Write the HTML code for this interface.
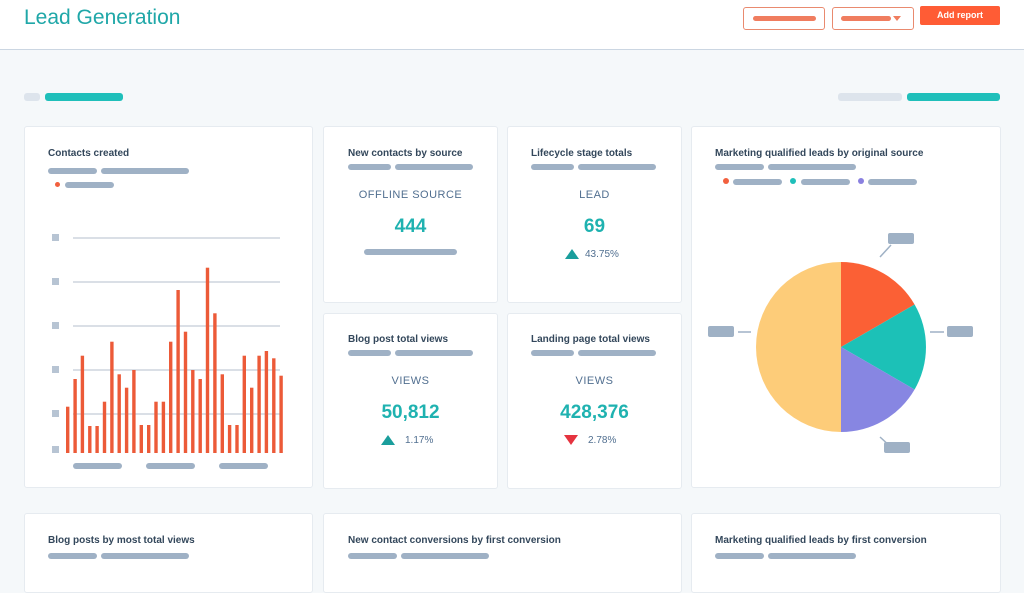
<!DOCTYPE html>
<html><head><style>
*{margin:0;padding:0;box-sizing:border-box}
body{width:1024px;height:576px;overflow:hidden;background:#f5f8fa;font-family:"Liberation Sans",sans-serif;position:relative}
.a{position:absolute}
.card{position:absolute;background:#fff;border:1px solid #e6ebf0;border-radius:3px}
.t{position:absolute;font-size:10px;font-weight:bold;color:#33475b;white-space:nowrap}
.p{position:absolute;height:6px;border-radius:3px;background:#9fb1c5}
.lbl{position:absolute;font-size:11px;color:#516f90;text-align:center;letter-spacing:.5px}
.num{position:absolute;font-size:19px;font-weight:bold;color:#1fb2b0;text-align:center}
.pct{position:absolute;font-size:10px;color:#516f90}
</style></head><body>
<div class="a" style="left:0;top:0;width:1024px;height:50px;background:#fff;border-bottom:1px solid #cbd6e2"></div>
<div class="a" style="left:24px;top:6px;font-size:21px;color:#1fa7a8">Lead Generation</div>
<div class="a" style="left:743px;top:7px;width:82px;height:23px;border:1.5px solid #e98a6f;border-radius:3px"></div>
<div class="a" style="left:753px;top:16px;width:63px;height:5px;border-radius:3px;background:#f07d5f"></div>
<div class="a" style="left:832px;top:7px;width:82px;height:23px;border:1.5px solid #e98a6f;border-radius:3px"></div>
<div class="a" style="left:841px;top:16px;width:50px;height:5px;border-radius:3px;background:#f07d5f"></div>
<div class="a" style="left:893px;top:16px;width:0;height:0;border-left:4px solid transparent;border-right:4px solid transparent;border-top:5px solid #f07d5f"></div>
<div class="a" style="left:920px;top:6px;width:80px;height:19px;background:#ff5c35;border-radius:2px;color:#fff;font-size:9px;font-weight:bold;text-align:center;line-height:19px">Add report</div>
<div class="a" style="left:24px;top:93px;width:16px;height:8px;background:#dde4ec;border-radius:3px"></div>
<div class="a" style="left:45px;top:93px;width:78px;height:8px;background:#1fbfba;border-radius:3px"></div>
<div class="a" style="left:838px;top:93px;width:64px;height:8px;background:#dde4ec;border-radius:3px"></div>
<div class="a" style="left:907px;top:93px;width:93px;height:8px;background:#1fbfba;border-radius:3px"></div>

<div class="card" style="left:24px;top:126px;width:289px;height:362px"></div>
<div class="t" style="left:48px;top:148px">Contacts created</div>
<div class="p" style="left:48px;top:168px;width:49px"></div><div class="p" style="left:101px;top:168px;width:88px"></div>
<div class="a" style="left:55px;top:182px;width:5px;height:5px;border-radius:50%;background:#f2603e"></div>
<div class="p" style="left:65px;top:182px;width:49px"></div>
<svg class="a" style="left:0;top:0" width="320" height="480">
<g fill="#b7c4d3"><rect x="52" y="234" width="7" height="7"/><rect x="52" y="278" width="7" height="7"/><rect x="52" y="322" width="7" height="7"/><rect x="52" y="366" width="7" height="7"/><rect x="52" y="410" width="7" height="7"/><rect x="52" y="446" width="7" height="7"/></g>
<g stroke="#c3ccd6" stroke-width="1.2"><line x1="73" y1="238" x2="280" y2="238"/><line x1="73" y1="282" x2="280" y2="282"/><line x1="73" y1="326" x2="280" y2="326"/><line x1="73" y1="370" x2="280" y2="370"/><line x1="73" y1="414" x2="280" y2="414"/></g>
<g fill="#ec5a38" id="bars"></g>
<g fill="#9fb1c5"><rect x="73" y="463" width="49" height="6" rx="3"/><rect x="146" y="463" width="49" height="6" rx="3"/><rect x="219" y="463" width="49" height="6" rx="3"/></g>
</svg>

<div class="card" style="left:323px;top:126px;width:175px;height:177px"></div>
<div class="t" style="left:348px;top:148px">New contacts by source</div>
<div class="p" style="left:348px;top:164px;width:43px"></div><div class="p" style="left:395px;top:164px;width:78px"></div>
<div class="lbl" style="left:323px;top:189px;width:175px">OFFLINE SOURCE</div>
<div class="num" style="left:323px;top:216px;width:175px">444</div>
<div class="p" style="left:364px;top:249px;width:93px"></div>

<div class="card" style="left:507px;top:126px;width:175px;height:177px"></div>
<div class="t" style="left:531px;top:148px">Lifecycle stage totals</div>
<div class="p" style="left:531px;top:164px;width:43px"></div><div class="p" style="left:578px;top:164px;width:78px"></div>
<div class="lbl" style="left:507px;top:189px;width:175px">LEAD</div>
<div class="num" style="left:507px;top:216px;width:175px">69</div>
<div class="a" style="left:565px;top:249px;width:0;height:0;border-left:7px solid transparent;border-right:7px solid transparent;border-bottom:10px solid #1a9e9c"></div>
<div class="pct" style="left:585px;top:249px">43.75%</div>

<div class="card" style="left:323px;top:313px;width:175px;height:176px"></div>
<div class="t" style="left:348px;top:334px">Blog post total views</div>
<div class="p" style="left:348px;top:350px;width:43px"></div><div class="p" style="left:395px;top:350px;width:78px"></div>
<div class="lbl" style="left:323px;top:375px;width:175px">VIEWS</div>
<div class="num" style="left:323px;top:402px;width:175px">50,812</div>
<div class="a" style="left:381px;top:435px;width:0;height:0;border-left:7px solid transparent;border-right:7px solid transparent;border-bottom:10px solid #1a9e9c"></div>
<div class="pct" style="left:405px;top:435px">1.17%</div>

<div class="card" style="left:507px;top:313px;width:175px;height:176px"></div>
<div class="t" style="left:531px;top:334px">Landing page total views</div>
<div class="p" style="left:531px;top:350px;width:43px"></div><div class="p" style="left:578px;top:350px;width:78px"></div>
<div class="lbl" style="left:507px;top:375px;width:175px">VIEWS</div>
<div class="num" style="left:507px;top:402px;width:175px">428,376</div>
<div class="a" style="left:564px;top:435px;width:0;height:0;border-left:7px solid transparent;border-right:7px solid transparent;border-top:10px solid #e5333f"></div>
<div class="pct" style="left:588px;top:435px">2.78%</div>

<div class="card" style="left:691px;top:126px;width:310px;height:362px"></div>
<div class="t" style="left:715px;top:148px">Marketing qualified leads by original source</div>
<div class="p" style="left:715px;top:164px;width:49px"></div><div class="p" style="left:768px;top:164px;width:88px"></div>
<div class="a" style="left:723px;top:178px;width:6px;height:6px;border-radius:50%;background:#f2603e"></div><div class="p" style="left:733px;top:179px;width:49px"></div>
<div class="a" style="left:790px;top:178px;width:6px;height:6px;border-radius:50%;background:#1fbfba"></div><div class="p" style="left:801px;top:179px;width:49px"></div>
<div class="a" style="left:858px;top:178px;width:6px;height:6px;border-radius:50%;background:#8a80e0"></div><div class="p" style="left:868px;top:179px;width:49px"></div>
<svg class="a" style="left:691px;top:190px" width="310" height="290">
<g transform="translate(150,157)">
<path d="M0 0 L0 85 A85 85 0 0 1 0 -85 Z" fill="#fdcc79"/>
<path d="M0 0 L0 -85 A85 85 0 0 1 73.6 -42.5 Z" fill="#fb6035"/>
<path d="M0 0 L73.6 -42.5 A85 85 0 0 1 73.6 42.5 Z" fill="#1cc1b7"/>
<path d="M0 0 L73.6 42.5 A85 85 0 0 1 0 85 Z" fill="#8786e2"/>
<g stroke="#9fb1c5" stroke-width="1.5"><line x1="39" y1="-90" x2="50" y2="-102"/><line x1="89" y1="-15" x2="103" y2="-15"/><line x1="39" y1="90" x2="50" y2="100"/><line x1="-90" y1="-15" x2="-103" y2="-15"/></g>
<g fill="#9fb1c5"><rect x="47" y="-114" width="26" height="11" rx="2"/><rect x="106" y="-21" width="26" height="11" rx="2"/><rect x="43" y="95" width="26" height="11" rx="2"/><rect x="-133" y="-21" width="26" height="11" rx="2"/></g>
</g></svg>

<div class="card" style="left:24px;top:513px;width:289px;height:80px"></div>
<div class="t" style="left:48px;top:535px">Blog posts by most total views</div>
<div class="p" style="left:48px;top:553px;width:49px"></div><div class="p" style="left:101px;top:553px;width:88px"></div>
<div class="card" style="left:323px;top:513px;width:359px;height:80px"></div>
<div class="t" style="left:348px;top:535px">New contact conversions by first conversion</div>
<div class="p" style="left:348px;top:553px;width:49px"></div><div class="p" style="left:401px;top:553px;width:88px"></div>
<div class="card" style="left:691px;top:513px;width:310px;height:80px"></div>
<div class="t" style="left:715px;top:535px">Marketing qualified leads by first conversion</div>
<div class="p" style="left:715px;top:553px;width:49px"></div><div class="p" style="left:768px;top:553px;width:88px"></div>
<script>
var z=[845,762,692,903,903,830,650,748,788,735,900,900,830,830,650,495,620,735,762,428,565,748,900,900,692,788,692,678,700,752];
var g=document.getElementById('bars'),s='';
for(var i=0;i<z.length;i++){var x=66+i*7.36,y=125+z[i]/3;s+='<rect x="'+x.toFixed(1)+'" y="'+y.toFixed(1)+'" width="3.4" height="'+(453-y).toFixed(1)+'"/>';}
g.innerHTML=s;
</script>
</body></html>
